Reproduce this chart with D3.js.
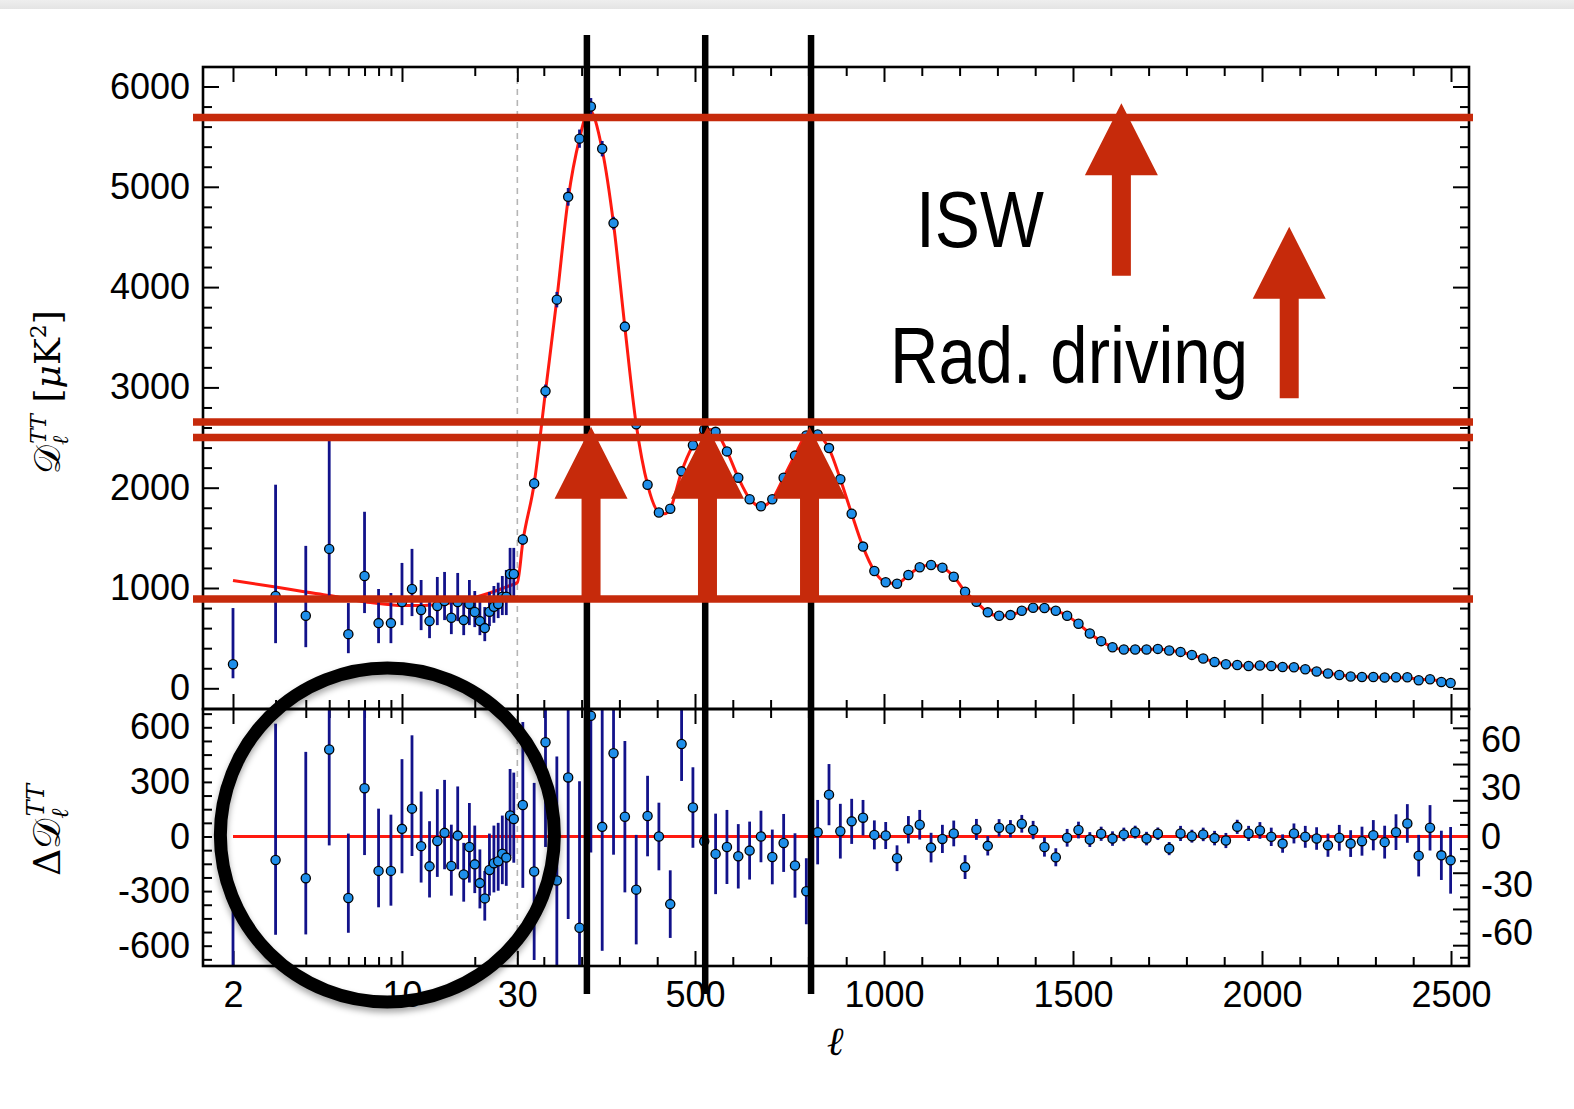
<!DOCTYPE html>
<html><head><meta charset="utf-8">
<script src="https://cdn.jsdelivr.net/npm/d3@7"></script>
<style>
html,body{margin:0;padding:0;background:#fff;}
svg{display:block;}
.tick text{font-family:"Liberation Sans",Arial,Helvetica,sans-serif;font-size:36px;fill:#000;}
.tick line{stroke:#000;stroke-width:2;}
</style></head><body>
<svg id="c" width="1574" height="1109"></svg>
<script>
// ---------------- DATA ----------------
// low-ell unbinned points (top panel)
const lowL   = [2,3,4,5,6,7,8,9,10,11,12,13,14,15,16,17,18,19,20,21,22,23,24,25,26,27,28,29];
const lowD   = [240,920,723,1390,540,1120,650,650,860,990,780,670,820,870,703,860,680,840,760,670,600,763,813,840,913,913,1140,1140];
const lowDlo = [100,450,410,920,350,750,450,450,630,720,580,500,630,680,540,670,530,630,610,530,470,620,653,700,730,730,900,900];
const lowDhi = [800,2030,1420,2480,850,1760,990,950,1250,1390,1080,913,1110,1160,910,1150,910,1080,970,880,810,960,1020,1053,1120,1180,1400,1400];
// low-ell residuals (bottom panel, left axis)
const lowR   = [-840,-129,-229,478,-338,265,-189,-189,42,153,-53,-164,-25,20,-162,5,-209,-58,-153,-256,-340,-184,-147,-136,-95,-116,115,96];
const lowRlo = [-1300,-540,-538,-49,-529,-102,-389,-380,-202,-107,-253,-335,-222,-180,-325,-180,-358,-253,-311,-395,-462,-325,-307,-298,-262,-271,-107,-144];
const lowRhi = [-380,620,465,1000,16,900,153,120,425,556,247,84,260,311,65,275,-35,184,60,-71,-189,16,60,75,115,111,371,351];

// high-ell binned points
const hiL = [44.5,74.5,104.5,134.5,164.5,194.5,224.5,254.5,284.5,314.5,344.5,374.5,404.5,434.5,464.5,494.5,524.5,554.5,584.5,614.5,644.5,674.5,704.5,734.5,764.5,794.5,824.5,854.5,884.5,914.5,944.5,974.5,1004.5,1034.5,1064.5,1094.5,1124.5,1154.5,1184.5,1214.5,1244.5,1274.5,1304.5,1334.5,1364.5,1394.5,1424.5,1454.5,1484.5,1514.5,1544.5,1574.5,1604.5,1634.5,1664.5,1694.5,1724.5,1754.5,1784.5,1814.5,1844.5,1874.5,1904.5,1934.5,1964.5,1994.5,2024.5,2054.5,2084.5,2114.5,2144.5,2174.5,2204.5,2234.5,2264.5,2294.5,2324.5,2354.5,2384.5,2414.5,2444.5,2474.5,2499];
const hiD = [1483,2043,2963,3875,4900,5480,5800,5380,4638,3606,2632,2030,1753,1790,2163,2424,2578,2557,2362,2100,1885,1815,1885,2100,2320,2520,2530,2395,2084,1740,1413,1170,1057,1043,1130,1207,1230,1203,1113,963,863,757,723,730,773,803,800,773,723,643,547,470,410,387,387,387,393,377,363,333,297,263,240,233,223,227,223,213,210,190,167,147,133,117,113,113,107,110,110,80,90,63,53];
const hiR = [19.6,-21.7,58.5,-27.3,36.7,-56.7,75,6,51.7,12.3,-33,12.7,0,-42,57.5,18,-3,-10.8,-6.5,-12.3,-8.75,0,-12.7,-4,-18,-34,2.7,26,3.3,9.4,11.7,1,0.6,-13.5,4.2,7.3,-6.9,-1.5,1.9,-19,4.4,-5.8,5.4,4.8,7.9,4,-6.5,-12.9,-0.8,4,-1.9,1.7,-1.3,1.3,2.7,-1.3,1.7,-7.5,1.9,0.2,1.3,-1,-2.5,6,1.9,3.75,-0.2,-4.4,1.9,-0.2,-1.25,-5.4,-0.8,-4.4,-2.9,0.8,-3.5,2.7,8.1,-11.9,5.4,-11.7,-14.8];
const hiErr = [51.5,55,65,77,88,91,85,77,63,47,34,25,21,21,23,25,26,25,23,20,18,16,17,18,20,20.5,20,19,17,14,11,9,8.4,8,8.5,9.2,9.2,8.75,8,7.4,6.5,6,5.4,5.4,5.5,5.7,6,5.6,5.5,5.2,4.6,4.4,4.5,4.2,4,4.2,3.9,4.1,4.7,4,4.2,4.5,4.7,4.4,4.7,5.2,5.7,5.7,6.2,6.8,7,7.2,8,8.3,9,9.4,10.2,11.1,12,12.9,14.1,15.3,20.7];

// best-fit model curve
const modelL = [2,3,4,5,6,7,8,9,10,12,14,16,18,20,22,24,26,28,30,44.5,74.5,104.5,134.5,164.5,194.5,220,254.5,284.5,314.5,344.5,374.5,404.5,420,434.5,464.5,494.5,524.5,540,554.5,584.5,614.5,644.5,674.5,704.5,734.5,764.5,794.5,814,824.5,854.5,884.5,914.5,944.5,974.5,1004.5,1034.5,1064.5,1094.5,1124.5,1154.5,1184.5,1214.5,1244.5,1274.5,1304.5,1334.5,1364.5,1394.5,1424.5,1454.5,1484.5,1514.5,1544.5,1574.5,1604.5,1634.5,1664.5,1694.5,1724.5,1754.5,1784.5,1814.5,1844.5,1874.5,1904.5,1934.5,1964.5,1994.5,2024.5,2054.5,2084.5,2114.5,2144.5,2174.5,2204.5,2234.5,2264.5,2294.5,2324.5,2354.5,2384.5,2414.5,2444.5,2474.5,2499];
const modelD = [1075,1010,960,925,890,862,845,833,826,825,835,852,875,905,935,965,995,1025,1055,1460,2040,2960,3880,4880,5480,5770,5370,4630,3600,2630,2030,1755,1740,1790,2160,2420,2570,2580,2560,2365,2100,1890,1815,1885,2100,2325,2520,2545,2530,2390,2085,1740,1410,1170,1057,1045,1128,1205,1230,1203,1115,965,860,757,722,728,771,800,800,775,724,643,547,470,411,387,387,386,392,380,362,332,297,264,241,230,222,224,224,215,208,191,169,150,134,119,114,111,108,107,103,92,84,74,68];

// ticks
const xLogMajor = [2,10,30];
const xLogMinor = [3,4,5,6,7,8,9,20];
const xLinMajor = [500,1000,1500,2000,2500];
const xLinMinor = [100,200,300,400,600,700,800,900,1100,1200,1300,1400,1600,1700,1800,1900,2100,2200,2300,2400];
const yTopMajor = [0,1000,2000,3000,4000,5000,6000];
const yTopMinor = [200,400,600,800,1200,1400,1600,1800,2200,2400,2600,2800,3200,3400,3600,3800,4200,4400,4600,4800,5200,5400,5600,5800];
const yResLLabels = [600,300,0,-300,-600];
const yResLMinor = [-675,-600,-525,-450,-375,-300,-225,-150,-75,0,75,150,225,300,375,450,525,600,675];
const yResRLabels = [60,30,0,-30,-60];
const yResRMajor = [-67.5,-45,-22.5,0,22.5,45,67.5];
const yResRMinor = [-75,-60,-52.5,-37.5,-30,-15,-7.5,7.5,15,30,37.5,52.5,60,75];

// annotations (data coordinates)
const vLineL = [214,527,807];
const hLineD = [5690,2655,2500,890];
const peakArrowL = [225,533,803];
const peakArrowBase = 890, peakArrowTip = 2607;
const sideArrows = [{l:1628, base:4114, tip:5832},{l:2072, base:2891, tip:4602}];

// ---------------- LAYOUT ----------------
const L=203, R=1469, T=67, M=709, B=966;
const svg = d3.select("#c");

const xLin = d3.scaleLinear().domain([500,2500]).range([695,1451]);
const xLog = d3.scaleLog().domain([2,30]).range([233, xLin(30)]);
const X = l => l < 30 ? xLog(l) : xLin(l);
const yTop = d3.scaleLinear().domain([0,6000]).range([688.3, 86.5]);
const yResL = d3.scaleLinear().domain([-600,600]).range([945.7, 727.3]);
const yResR = d3.scaleLinear().domain([-60,60]).range([933.1, 739.9]);
const fmt = d => String(d);

// background + top band
svg.append("rect").attr("width",1574).attr("height",1109).attr("fill","#fff");
const defs = svg.append("defs");
const grad = defs.append("linearGradient").attr("id","band").attr("x1",0).attr("y1",0).attr("x2",0).attr("y2",1);
grad.append("stop").attr("offset","0%").attr("stop-color","#eeeeee");
grad.append("stop").attr("offset","100%").attr("stop-color","#e4e4e4");
svg.append("rect").attr("x",0).attr("y",0).attr("width",1574).attr("height",9).attr("fill","url(#band)");

defs.append("clipPath").attr("id","clipTop").append("rect").attr("x",L).attr("y",T).attr("width",R-L).attr("height",M-T);
defs.append("clipPath").attr("id","clipBot").append("rect").attr("x",L).attr("y",M).attr("width",R-L).attr("height",B-M);
const flt = defs.append("filter").attr("id","shadow").attr("x","-20%").attr("y","-20%").attr("width","140%").attr("height","140%");
flt.append("feDropShadow").attr("dx",0).attr("dy",4).attr("stdDeviation",3).attr("flood-color","#000").attr("flood-opacity",0.35);

// dashed l=30 divider
svg.append("line").attr("x1",X(30)).attr("x2",X(30)).attr("y1",T).attr("y2",B)
  .attr("stroke","#b5b5b5").attr("stroke-width",1.6).attr("stroke-dasharray","6,5");

// ---------------- AXES ----------------
function noDomain(g){ g.select(".domain").remove(); }
function xTicks(y, makeAxis, sizeMaj, sizeMin, labels){
  const g = svg.append("g").attr("transform",`translate(0,${y})`);
  g.append("g").call(makeAxis(xLog).tickValues(xLogMajor).tickSize(sizeMaj).tickPadding(15).tickFormat(labels?fmt:"")).call(noDomain);
  g.append("g").call(makeAxis(xLog).tickValues(xLogMinor).tickSize(sizeMin).tickFormat("")).call(noDomain);
  g.append("g").call(makeAxis(xLin).tickValues(xLinMajor).tickSize(sizeMaj).tickPadding(15).tickFormat(labels?fmt:"")).call(noDomain);
  g.append("g").call(makeAxis(xLin).tickValues(xLinMinor).tickSize(sizeMin).tickFormat("")).call(noDomain);
}
xTicks(T, d3.axisTop, -15, -9, false);
xTicks(M, d3.axisTop, 15, 9, false);
xTicks(M, d3.axisBottom, 15, 9, false);
xTicks(B, d3.axisBottom, -15, -9, true);

// top panel y
svg.append("g").attr("transform",`translate(${L},0)`).call(d3.axisLeft(yTop).tickValues(yTopMajor).tickSize(-16).tickPadding(13).tickFormat(fmt)).call(noDomain);
svg.append("g").attr("transform",`translate(${L},0)`).call(d3.axisLeft(yTop).tickValues(yTopMinor).tickSize(-9).tickFormat("")).call(noDomain);
svg.append("g").attr("transform",`translate(${R},0)`).call(d3.axisRight(yTop).tickValues(yTopMajor).tickSize(-16).tickFormat("")).call(noDomain);
svg.append("g").attr("transform",`translate(${R},0)`).call(d3.axisRight(yTop).tickValues(yTopMinor).tickSize(-9).tickFormat("")).call(noDomain);
// bottom panel y
svg.append("g").attr("transform",`translate(${L},0)`).call(d3.axisLeft(yResL).tickValues(yResLMinor).tickSize(-9).tickFormat("")).call(noDomain);
svg.append("g").attr("transform",`translate(${L},0)`).call(d3.axisLeft(yResL).tickValues(yResLLabels).tickSize(0).tickPadding(13).tickFormat(fmt)).call(noDomain);
svg.append("g").attr("transform",`translate(${R},0)`).call(d3.axisRight(yResR).tickValues(yResRMajor).tickSize(-16).tickFormat("")).call(noDomain);
svg.append("g").attr("transform",`translate(${R},0)`).call(d3.axisRight(yResR).tickValues(yResRMinor).tickSize(-9).tickFormat("")).call(noDomain);
svg.append("g").attr("transform",`translate(${R},0)`).call(d3.axisRight(yResR).tickValues(yResRLabels).tickSize(0).tickPadding(12).tickFormat(fmt)).call(noDomain);

// ---------------- DATA MARKS ----------------
const navy = "#12128a", dotFill = "#1f8fea", red = "#ff1a10";
const gTop = svg.append("g").attr("clip-path","url(#clipTop)");
const gBot = svg.append("g").attr("clip-path","url(#clipBot)");

// model line
const modelPts = modelL.map((l,i)=>({l, d:modelD[i]}));
gTop.append("path").datum(modelPts)
  .attr("d", d3.line().x(d=>X(d.l)).y(d=>yTop(d.d)).curve(d3.curveMonotoneX))
  .attr("fill","none").attr("stroke",red).attr("stroke-width",3);
// zero line
gBot.append("line").attr("x1",X(2)).attr("x2",R).attr("y1",yResL(0)).attr("y2",yResL(0))
  .attr("stroke",red).attr("stroke-width",3);

const lowPts = lowL.map((l,i)=>({l, d:lowD[i], dlo:lowDlo[i], dhi:lowDhi[i], r:lowR[i], rlo:lowRlo[i], rhi:lowRhi[i]}));
const hiPts = hiL.map((l,i)=>({l, d:hiD[i], e:hiErr[i], r:hiR[i]}));
const RAD = 4.6;

// top error bars
gTop.selectAll(".eLow").data(lowPts).join("line")
  .attr("x1",d=>X(d.l)).attr("x2",d=>X(d.l)).attr("y1",d=>yTop(d.dlo)).attr("y2",d=>yTop(d.dhi))
  .attr("stroke",navy).attr("stroke-width",2.8);
gTop.selectAll(".eHi").data(hiPts).join("line")
  .attr("x1",d=>X(d.l)).attr("x2",d=>X(d.l)).attr("y1",d=>yTop(d.d-d.e)).attr("y2",d=>yTop(d.d+d.e))
  .attr("stroke",navy).attr("stroke-width",2.8);
gTop.selectAll(".pLow").data(lowPts.concat(hiPts)).join("circle")
  .attr("cx",d=>X(d.l)).attr("cy",d=>yTop(d.d)).attr("r",RAD)
  .attr("fill",dotFill).attr("stroke","#000").attr("stroke-width",1.3);

// bottom residuals
gBot.selectAll(".rLowE").data(lowPts).join("line")
  .attr("x1",d=>X(d.l)).attr("x2",d=>X(d.l)).attr("y1",d=>yResL(d.rlo)).attr("y2",d=>yResL(d.rhi))
  .attr("stroke",navy).attr("stroke-width",2.8);
gBot.selectAll(".rHiE").data(hiPts).join("line")
  .attr("x1",d=>X(d.l)).attr("x2",d=>X(d.l)).attr("y1",d=>yResR(d.r-d.e)).attr("y2",d=>yResR(d.r+d.e))
  .attr("stroke",navy).attr("stroke-width",2.8);
gBot.selectAll(".rLowP").data(lowPts).join("circle")
  .attr("cx",d=>X(d.l)).attr("cy",d=>yResL(d.r)).attr("r",RAD)
  .attr("fill",dotFill).attr("stroke","#000").attr("stroke-width",1.3);
gBot.selectAll(".rHiP").data(hiPts).join("circle")
  .attr("cx",d=>X(d.l)).attr("cy",d=>yResR(d.r)).attr("r",RAD)
  .attr("fill",dotFill).attr("stroke","#000").attr("stroke-width",1.3);

// frames
svg.append("rect").attr("x",L).attr("y",T).attr("width",R-L).attr("height",M-T).attr("fill","none").attr("stroke","#000").attr("stroke-width",2.6);
svg.append("rect").attr("x",L).attr("y",M).attr("width",R-L).attr("height",B-M).attr("fill","none").attr("stroke","#000").attr("stroke-width",2.6);

// axis titles
const serif = "'DejaVu Serif','Liberation Serif',serif";
const t1 = svg.append("text").attr("transform","translate(60,392) rotate(-90)").attr("text-anchor","middle")
  .attr("font-family",serif).attr("font-size",36).attr("fill","#000");
t1.append("tspan").text("𝒟");
t1.append("tspan").attr("font-size",22).attr("dy",8).attr("font-style","italic").text("ℓ");
t1.append("tspan").attr("font-size",22).attr("dy",-22).attr("dx",-8).attr("font-style","italic").text("TT");
t1.append("tspan").attr("dy",14).text(" [");
t1.append("tspan").attr("font-style","italic").text("μ");
t1.append("tspan").text("K");
t1.append("tspan").attr("font-size",22).attr("dy",-14).text("2");
t1.append("tspan").attr("dy",14).text("]");

const t2 = svg.append("text").attr("transform","translate(60,830) rotate(-90)").attr("text-anchor","middle")
  .attr("font-family",serif).attr("font-size",38).attr("fill","#000");
t2.append("tspan").text("Δ𝒟");
t2.append("tspan").attr("font-size",24).attr("dy",8).attr("font-style","italic").text("ℓ");
t2.append("tspan").attr("font-size",24).attr("dy",-24).attr("dx",-8).attr("font-style","italic").text("TT");

svg.append("text").attr("x",835).attr("y",1055).attr("text-anchor","middle")
  .attr("font-family",serif).attr("font-style","italic").attr("font-size",40).text("ℓ");

// ---------------- ANNOTATIONS ----------------
const ann = svg.append("g");
ann.selectAll(".vl").data(vLineL).join("line")
  .attr("x1",d=>X(d)).attr("x2",d=>X(d)).attr("y1",35).attr("y2",994)
  .attr("stroke","#000").attr("stroke-width",6.5);
const annRed = "#c62a0b";
ann.selectAll(".hl").data(hLineD).join("line")
  .attr("x1",193).attr("x2",1473).attr("y1",d=>yTop(d)).attr("y2",d=>yTop(d))
  .attr("stroke",annRed).attr("stroke-width",7.5);

function arrowPath(x, yBase, yTip){
  const sw=19, hw=73, hh=72;
  return d3.line()([[x-sw/2,yBase],[x-sw/2,yTip+hh],[x-hw/2,yTip+hh],[x,yTip],[x+hw/2,yTip+hh],[x+sw/2,yTip+hh],[x+sw/2,yBase]])+"Z";
}
ann.selectAll(".pa").data(peakArrowL).join("path")
  .attr("d",d=>arrowPath(X(d), yTop(peakArrowBase), yTop(peakArrowTip))).attr("fill",annRed);
ann.selectAll(".sa").data(sideArrows).join("path")
  .attr("d",d=>arrowPath(X(d.l), yTop(d.base), yTop(d.tip))).attr("fill",annRed);

ann.append("text").attr("x",916).attr("y",247).attr("font-family","'Liberation Sans',Arial,sans-serif")
  .attr("font-size",80).attr("textLength",128).attr("lengthAdjust","spacingAndGlyphs").text("ISW");
ann.append("text").attr("x",890).attr("y",383).attr("font-family","'Liberation Sans',Arial,sans-serif")
  .attr("font-size",80).attr("textLength",358).attr("lengthAdjust","spacingAndGlyphs").text("Rad. driving");

// circle around low-ell residuals
ann.append("circle").attr("cx",xLog(8.7)).attr("cy",835).attr("r",167)
  .attr("fill","none").attr("stroke","#000").attr("stroke-width",13).attr("filter","url(#shadow)");
</script>
</body></html>
